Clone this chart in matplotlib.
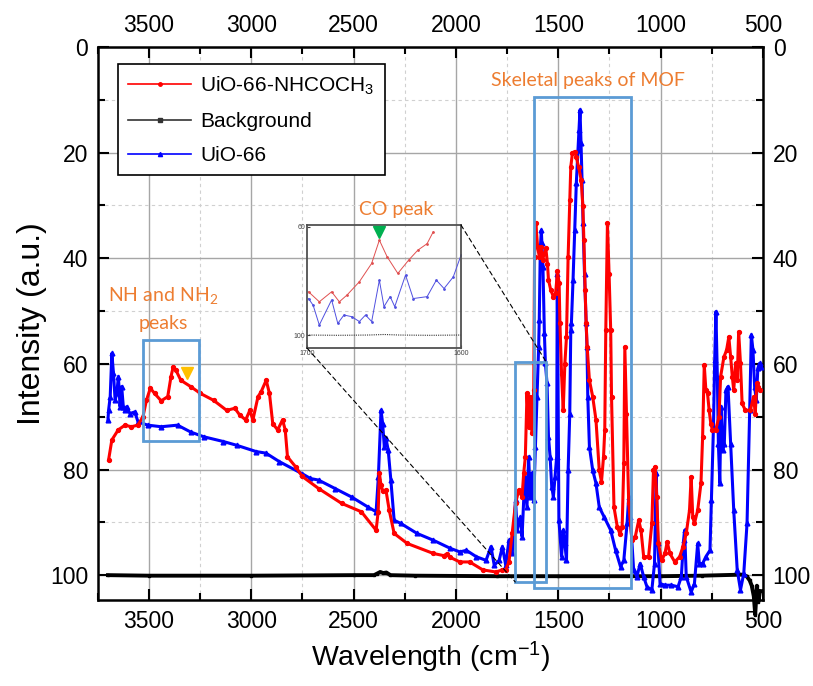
import numpy as np
import matplotlib
matplotlib.use("Agg")
import matplotlib.pyplot as plt
from matplotlib.patches import Rectangle, ConnectionPatch
from matplotlib.lines import Line2D

plt.rcParams['font.family'] = ['Liberation Sans', 'DejaVu Sans']
plt.rcParams['mathtext.default'] = 'regular'

# ---------------- data ----------------
red_x = [3697, 3681, 3650, 3617, 3586, 3554, 3529, 3512, 3493, 3472, 3440, 3408, 3392, 3381, 3368,
         3344, 3296, 3248, 3184, 3120, 3080, 3056, 3027, 3007, 2992, 2967, 2952, 2927, 2911, 2895,
         2871, 2847, 2834, 2823, 2783, 2751, 2671, 2559, 2462, 2390, 2380, 2374, 2366, 2358, 2342,
         2326, 2302, 2238, 2110, 2060, 2045, 2030, 1981, 1933, 1869, 1805, 1773, 1757, 1741, 1725,
         1709, 1693, 1677, 1669, 1661, 1653, 1645, 1637, 1629, 1620, 1616, 1610, 1601, 1593, 1585,
         1577, 1561, 1553, 1548, 1537, 1524, 1513, 1504, 1496, 1492, 1484, 1476, 1468, 1460, 1452,
         1444, 1439, 1431, 1420, 1412, 1401, 1388, 1380, 1375, 1369, 1364, 1359, 1348, 1332, 1316,
         1300, 1289, 1279, 1273, 1268, 1260, 1252, 1244, 1240, 1228, 1212, 1199, 1188, 1180, 1175,
         1167, 1156, 1140, 1124, 1107, 1096, 1083, 1059, 1043, 1035, 1027, 1019, 1011, 995, 979,
         968, 955, 931, 907, 891, 875, 859, 851, 843, 835, 819, 803, 795, 787, 779,
         771, 763, 755, 747, 731, 715, 707, 691, 678, 667, 658, 650, 643, 634, 626,
         619, 610, 602, 586, 562, 546, 538, 530, 522, 514]
red_y = [78.2, 74.4, 72.5, 71.6, 71.9, 71.6, 70.0, 66.9, 64.6, 65.6, 67.0, 66.2, 62.4, 60.5, 61.2,
         63.1, 64.3, 65.6, 66.9, 68.8, 68.4, 69.7, 70.6, 68.8, 70.6, 66.2, 65.3, 63.1, 65.6, 71.3,
         72.5, 70.6, 72.5, 77.6, 79.5, 81.3, 83.6, 86.4, 88.0, 91.5, 88.0, 80.7, 83.0, 84.0, 83.9,
         87.7, 92.1, 94.0, 95.9, 96.3, 96.0, 96.6, 97.5, 97.5, 99.0, 99.4, 99.0, 99.0, 97.5, 92.0,
         86.4, 83.9, 85.2, 80.7, 77.6, 65.6, 71.9, 66.2, 73.1, 65.0, 39.7, 33.4, 37.8, 39.7, 37.8,
         40.3, 38.1, 41.0, 44.1, 46.0, 47.3, 46.6, 42.5, 44.7, 52.3, 62.0, 68.8, 60.0, 54.9, 39.7,
         29.0, 22.7, 20.1, 19.8, 20.8, 22.7, 25.2, 30.2, 36.6, 46.0, 52.3, 56.8, 63.1, 66.2, 70.6,
         80.1, 82.3, 77.6, 72.5, 53.6, 33.4, 42.9, 53.6, 66.2, 87.1, 90.8, 92.2, 90.8, 78.8, 56.8,
         69.4, 86.4, 93.4, 92.7, 89.6, 91.5, 96.5, 96.5, 90.2, 80.1, 79.5, 85.2, 94.0, 97.2, 95.9,
         93.7, 95.9, 97.5, 96.5, 94.6, 92.1, 87.7, 81.4, 89.0, 90.2, 87.7, 82.6, 73.8, 60.2, 65.0,
         65.6, 68.8, 71.3, 72.5, 72.5, 70.0, 62.4, 58.7, 57.4, 54.9, 58.7, 62.4, 65.0, 59.9, 63.1,
         53.9, 59.9, 67.5, 68.8, 68.8, 66.2, 69.4, 63.7, 64.3, 65.0]

blue_x = [3700, 3697, 3689, 3681, 3673, 3665, 3657, 3649, 3641, 3633, 3625, 3617, 3609, 3593, 3569,
          3553, 3505, 3440, 3360, 3296, 3232, 3136, 3072, 2976, 2928, 2863, 2751, 2711, 2671, 2591,
          2510, 2430, 2390, 2379, 2366, 2358, 2350, 2342, 2331, 2318, 2302, 2270, 2190, 2110, 2029,
          1981, 1949, 1901, 1853, 1829, 1813, 1789, 1773, 1757, 1741, 1725, 1709, 1701, 1685, 1677,
          1664, 1653, 1645, 1637, 1629, 1620, 1612, 1604, 1596, 1593, 1588, 1583, 1580, 1575, 1568,
          1563, 1555, 1548, 1540, 1532, 1524, 1516, 1508, 1505, 1497, 1484, 1476, 1468, 1460, 1452,
          1444, 1439, 1436, 1428, 1420, 1412, 1404, 1399, 1394, 1389, 1384, 1379, 1372, 1364, 1360,
          1356, 1348, 1332, 1316, 1300, 1276, 1244, 1220, 1196, 1180, 1164, 1156, 1148, 1132, 1116,
          1100, 1083, 1067, 1043, 1030, 1022, 1014, 1003, 979, 947, 915, 899, 888, 883, 875,
          851, 835, 819, 811, 795, 779, 759, 752, 742, 736, 730, 723, 718, 711, 705,
          697, 689, 681, 671, 658, 643, 626, 610, 594, 578, 565, 557, 549, 541, 533,
          525, 517, 510]
blue_y = [70.6, 68.8, 66.2, 58.0, 61.8, 66.9, 65.6, 62.4, 68.1, 64.3, 68.1, 68.8, 68.1, 69.4, 69.1,
          71.0, 71.6, 71.9, 71.6, 72.9, 73.8, 74.7, 75.4, 76.6, 76.9, 78.5, 80.8, 81.7, 82.0, 83.6,
          85.2, 87.1, 88.0, 81.4, 68.8, 71.3, 75.7, 74.1, 76.3, 82.0, 89.6, 90.2, 92.1, 93.4, 94.9,
          95.6, 95.3, 96.5, 97.2, 94.6, 98.1, 97.2, 94.6, 98.1, 93.4, 95.9, 85.8, 91.5, 89.0, 92.7,
          81.4, 87.1, 77.6, 85.2, 80.7, 85.8, 75.7, 66.2, 56.8, 51.7, 38.4, 34.7, 37.2, 41.6, 54.2,
          59.9, 63.7, 73.8, 77.6, 83.3, 85.2, 81.4, 77.6, 42.9, 89.6, 96.5, 91.5, 94.0, 97.2, 80.1,
          69.4, 53.6, 52.3, 44.1, 34.7, 25.8, 19.5, 15.7, 11.9, 18.2, 25.2, 33.4, 42.9, 52.3, 56.8,
          66.2, 75.7, 80.1, 82.6, 87.1, 89.0, 91.5, 95.3, 98.4, 97.2, 90.2, 85.2, 89.0, 99.0, 100.3,
          97.8, 100.3, 102.2, 102.8, 97.8, 80.7, 94.0, 101.6, 101.9, 101.9, 102.2, 100.3, 93.4, 91.5, 100.3,
          103.2, 101.6, 94.0, 97.8, 97.8, 96.5, 95.3, 85.8, 71.9, 59.3, 50.1, 62.4, 75.1, 82.6, 68.1,
          76.3, 75.1, 65.0, 64.3, 75.1, 87.7, 99.0, 102.8, 99.7, 90.2, 68.8, 54.5, 57.4, 64.3, 66.9,
          60.8, 59.9, 60.5]

black_x = [3700, 3500, 3000, 2500, 2400, 2385, 2370, 2355, 2340, 2320, 2200, 1800, 1500, 1000,
           800, 600, 580, 565, 555, 545, 538, 530, 522, 515]
black_y = [100.0, 100.1, 100.1, 100.0, 100.0, 99.7, 99.4, 99.6, 99.5, 100.0, 100.1, 100.2, 100.2, 100.2,
           100.1, 99.9, 100.2, 101.0, 102.0, 104.0, 107.5, 102.0, 105.0, 103.0]

# inset (zoom of 1700-1600 cm-1)
in_red_x = [1699, 1692, 1684, 1679, 1674, 1666, 1658, 1653, 1648, 1641, 1634, 1628, 1622, 1618]
in_red_y = [84.0, 87.7, 84.0, 87.7, 85.2, 80.3, 73.5, 64.9, 71.0, 77.2, 72.3, 68.6, 66.2, 61.8]
in_blue_x = [1699, 1696, 1692, 1684, 1680, 1676, 1671, 1666, 1662, 1658, 1653, 1650, 1646, 1643,
             1636, 1631, 1622, 1616, 1611, 1605, 1600]
in_blue_y = [86.5, 89.0, 96.3, 87.0, 95.7, 92.6, 93.2, 95.0, 92.6, 95.0, 79.7, 89.5, 85.8, 89.5,
             77.8, 86.5, 85.8, 79.7, 82.8, 78.5, 70.5]
in_black_x = [1700, 1680, 1660, 1650, 1640, 1620, 1600]
in_black_y = [100.0, 100.1, 100.0, 99.8, 100.0, 100.1, 100.0]

xticks = [3500, 3000, 2500, 2000, 1500, 1000, 500]
yticks = [0, 20, 40, 60, 80, 100]

labels = ['UiO-66-NHCOCH$_3$', 'Background', 'UiO-66']

# ---------------- figure ----------------
fig = plt.figure(figsize=(8.13, 6.86), dpi=100)
ax = fig.add_axes([0.1202, 0.1254, 0.8183, 0.8061])

ax.set_xlim(3700, 500)
ax.set_ylim(104.7, 0)
ax.set_xticks(xticks)
ax.set_xticks(np.arange(3750, 499, -250), minor=True)
ax.set_yticks(yticks)
ax.set_yticks(np.arange(0, 105, 10), minor=True)

ax.set_axisbelow(True)
ax.grid(which='major', color='#a6a6a6', lw=1.0, ls='-')
ax.grid(which='minor', color='#d0d0d0', lw=0.8, ls=(0, (3, 3)))

ax.tick_params(axis='both', which='both', direction='in', top=True, right=True,
               labeltop=True, labelright=True, labelsize=16.5, width=1.5, pad=7)
ax.tick_params(which='major', length=8)
ax.tick_params(which='minor', length=5)
for s in ax.spines.values():
    s.set_linewidth(1.8)

red_c = '#ff0000'
blue_c = '#0000ff'
ax.plot(black_x, black_y, color='black', lw=2.8, marker='s', ms=1.5, zorder=3, clip_on=False)
ax.plot(blue_x, blue_y, color=blue_c, lw=2.2, marker='^', ms=3.4, zorder=4)
ax.plot(red_x, red_y, color=red_c, lw=2.2, marker='o', ms=2.8, zorder=5)

ax.set_xlabel('Wavelength (cm$^{-1}$)', fontsize=20.5, labelpad=5)
ax.set_ylabel('Intensity (a.u.)', fontsize=23, labelpad=2)

# legend
handles = [Line2D([], [], color=red_c, lw=1.2, marker='o', ms=2.5),
           Line2D([], [], color='#333333', lw=1.2, marker='s', ms=2.5),
           Line2D([], [], color=blue_c, lw=1.2, marker='^', ms=3)]
leg = ax.legend(handles, labels, loc='upper left', bbox_to_anchor=(0.0305, 0.969),
                borderaxespad=0, fontsize=15, handlelength=3.0, handletextpad=0.45,
                labelspacing=0.72, borderpad=0.5, fancybox=False, framealpha=1,
                edgecolor='black')
leg.get_frame().set_linewidth(1.2)
leg.set_zorder(10)

# boxes
box_c = '#5b9bd5'
for (x0, x1, y0, y1) in [(3530, 3253, 55.5, 74.6), (1621, 1145, 9.4, 102.5), (1710, 1558, 59.7, 101.3)]:
    ax.add_patch(Rectangle((x0, y0), x1 - x0, y1 - y0, fill=False, edgecolor=box_c, lw=2.0, zorder=6))

# annotations
org = '#ed7d31'
ax.text(1356, 6.3, 'Skeletal peaks of MOF', color=org, fontsize=14, family=['Lato', 'DejaVu Sans'],
        ha='center', va='center', zorder=8)
ax.text(3432, 47.0, 'NH and NH$_2$', color=org, fontsize=14, family=['Lato', 'DejaVu Sans'],
        ha='center', va='center', zorder=8)
ax.text(3432, 52.3, 'peaks', color=org, fontsize=14, family=['Lato', 'DejaVu Sans'],
        ha='center', va='center', zorder=8)
ax.plot([3315], [61.8], marker='v', color='#ffc000', ms=9, ls='none', zorder=8)

# inset
axi = fig.add_axes([0.3776, 0.4927, 0.1894, 0.1793])
axi.set_facecolor('none')
axi.set_xlim(1700, 1600)
axi.set_ylim(104.8, 59.3)
axi.set_xticks([1700, 1600])
axi.set_yticks([60, 100])
axi.set_xticks(np.arange(1690, 1600, 15), minor=True)
axi.grid(which='minor', axis='x', color='#e4e4e4', lw=0.6)
axi.tick_params(which='both', direction='in', length=2, labelsize=5, colors='#404040', pad=1.5)
axi.tick_params(which='minor', length=0)
for s in axi.spines.values():
    s.set_color('#505050')
    s.set_linewidth(1.3)
axi.plot(in_black_x, in_black_y, color='#333333', lw=0.8, ls=(0, (1, 1)))
axi.plot(in_blue_x, in_blue_y, color='#5050e0', lw=0.7, marker='o', ms=1.0)
axi.plot(in_red_x, in_red_y, color='#e05050', lw=0.7, marker='o', ms=1.0)
axi.plot([1653], [61.8], marker='v', color='#00b050', ms=9, ls='none', clip_on=False, zorder=9)
axi.text(1642, 53.5, 'CO peak', color=org, fontsize=14, family=['Lato', 'DejaVu Sans'],
         ha='center', va='center', clip_on=False)

for (xa, ya, xb, yb) in [(1, 1, 1558, 59.7), (0, 0, 1710, 101.3)]:
    cp = ConnectionPatch(xyA=(xa, ya), coordsA=axi.transAxes, xyB=(xb, yb), coordsB=ax.transData,
                         color='black', lw=0.8, ls=(0, (4, 3)))
    fig.add_artist(cp)

fig.savefig('out.png', dpi=100)
